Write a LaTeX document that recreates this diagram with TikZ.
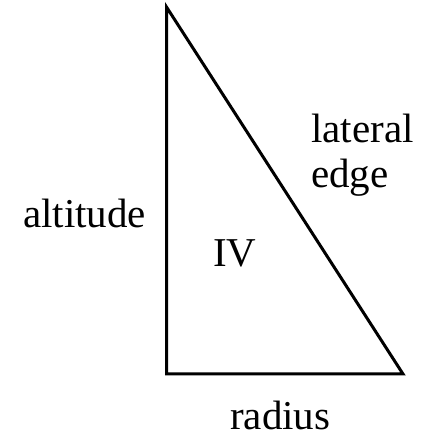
\documentclass[tikz,border=0pt]{standalone}
\usepackage{fontspec}
\setmainfont{Liberation Serif}
\begin{document}
\begin{tikzpicture}[x=1pt,y=1pt,
  lbl/.style={anchor=base west,inner sep=0pt,font=\fontsize{41}{49}\selectfont},
  edgeline/.style={line width=3pt,line join=miter}]
\useasboundingbox (0,0) rectangle (422,437);
\coordinate (T) at (166.5,430);
\coordinate (BL) at (166.5,63);
\coordinate (BR) at (403,63);
\draw[edgeline] (T) -- (BL) -- (BR) -- cycle;
\node[lbl] (alt) at (23,209) {altitude};
\node[lbl] (lat) at (311,294) {lateral};
\node[lbl] (edg) at (311,249) {edge};
\node[lbl] (iv) at (213,170) {IV};
\node[lbl] (rad) at (230,7) {radius};
\end{tikzpicture}
\end{document}
